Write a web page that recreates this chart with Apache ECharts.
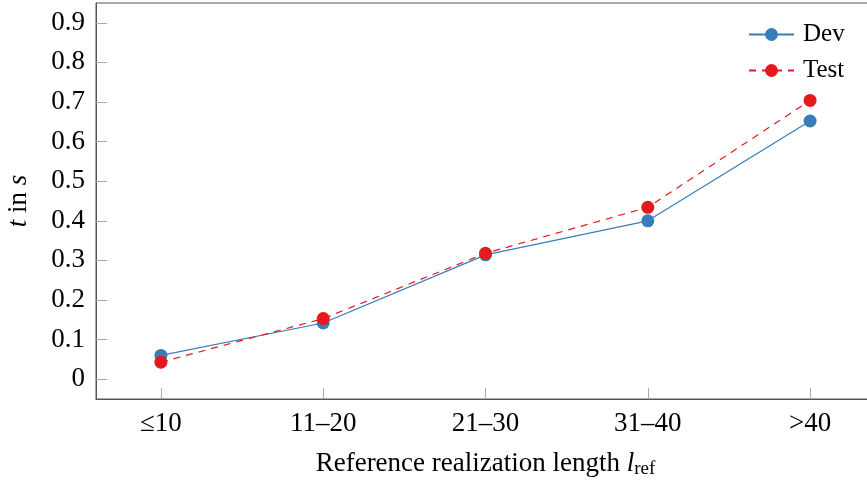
<!DOCTYPE html>
<html>
<head>
<meta charset="utf-8">
<script src="https://cdn.jsdelivr.net/npm/echarts@6/dist/echarts.min.js"></script>
<style>
  html, body { margin: 0; padding: 0; background: #fff; }
  #chart { width: 867px; height: 481px; }
</style>
</head>
<body>
<div id="chart"></div>
<script>
// length buckets on the x axis
const categories = ['≤10', '11–20', '21–30', '31–40', '>40']
const devTimes = [0.06, 0.142, 0.314, 0.40, 0.652]
const testTimes = [0.043, 0.153, 0.318, 0.434, 0.704]
const yTicks = [0, 0.1, 0.2, 0.3, 0.4, 0.5, 0.6, 0.7, 0.8, 0.9]

const font = 'Liberation Serif'
const fs = 27
const blue = '#377eb8'
const red = '#e41a1c'

const toPoints = vals => vals.map((v, i) => [i, v])
const catIdx = categories.map((c, i) => i)

const chart = echarts.init(document.getElementById('chart'))

chart.setOption({
	animation: false,
	grid: {
		left: 96,
		right: -8,
		top: 3,
		bottom: 82,
		outerBoundsMode: 'none',
		containLabel: false,
		show: true,
		borderColor: '#555',
		borderWidth: 1
	},
	legend: {
		left: 748,
		top: 22,
		padding: 0,
		orient: 'vertical',
		itemWidth: 45,
		itemHeight: 16,
		itemGap: 11,
		textStyle: { fontFamily: font, fontSize: 25, lineHeight: 20, color: '#000', padding: [0, 0, 0, 4] },
		data: ['Dev', 'Test']
	},
	xAxis: {
		type: 'value',
		min: -0.4,
		max: 4.4,
		name: '{n|Reference realization length }{i|l}{s|ref}',
		nameLocation: 'middle',
		nameGap: 50,
		nameTextStyle: {
			rich: {
				n: { fontFamily: font, fontSize: fs, color: '#000' },
				i: { fontFamily: font, fontSize: fs, fontStyle: 'italic', color: '#000' },
				s: { fontFamily: font, fontSize: 19, color: '#000', padding: [11, 0, 0, 0] }
			}
		},
		splitLine: { show: false },
		axisLine: { onZero: false, lineStyle: { color: '#555', width: 1 } },
		axisTick: { inside: true, length: 11, lineStyle: { color: '#aaa' }, customValues: catIdx },
		axisLabel: {
			customValues: catIdx,
			margin: 11,
			fontFamily: font,
			fontSize: fs,
			color: '#000',
			formatter: v => categories[Math.round(v)]
		}
	},
	yAxis: {
		type: 'value',
		min: -0.05,
		max: 0.95,
		name: '{i|t}{n| in }{i|s}',
		nameLocation: 'middle',
		nameGap: 64,
		nameRotate: 90,
		nameTextStyle: {
			rich: {
				n: { fontFamily: font, fontSize: fs, color: '#000' },
				i: { fontFamily: font, fontSize: fs, fontStyle: 'italic', color: '#000' }
			}
		},
		splitLine: { show: false },
		axisLine: { show: true, onZero: false, lineStyle: { color: '#555', width: 1 } },
		axisTick: { show: true, inside: true, length: 11, lineStyle: { color: '#aaa' }, customValues: yTicks },
		axisLabel: {
			customValues: yTicks,
			margin: 11,
			fontFamily: font,
			fontSize: fs,
			color: '#000',
			formatter: v => String(v)
		}
	},
	series: [{
		name: 'Dev',
		type: 'line',
		data: toPoints(devTimes),
		symbol: 'circle',
		symbolSize: 13,
		color: blue,
		lineStyle: { width: 1.2, color: blue },
		itemStyle: { color: blue }
	}, {
		name: 'Test',
		type: 'line',
		data: toPoints(testTimes),
		symbol: 'circle',
		symbolSize: 13,
		color: red,
		lineStyle: { width: 1.2, color: red, type: [7, 6] },
		itemStyle: { color: red }
	}]
})
</script>
</body>
</html>
